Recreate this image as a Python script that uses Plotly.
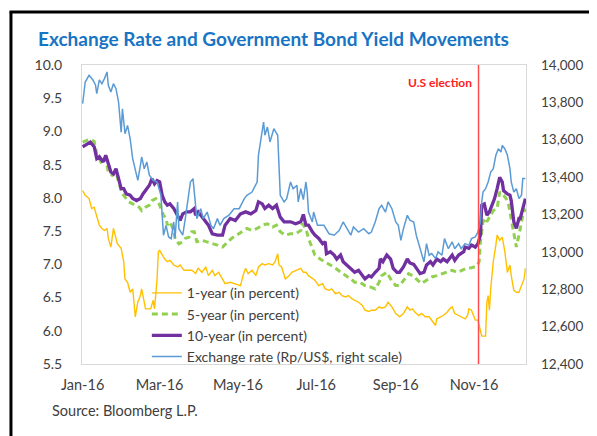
import pandas as pd
import plotly.graph_objects as go

BASE = pd.Timestamp("2016-01-01")

# ---- Data (day offsets from 1 Jan 2016) ----
fx_days = [0, 2, 5, 8, 10, 11, 13, 15, 17, 19, 20, 22, 24, 26, 28, 30, 31, 33, 35, 37, 39, 41, 43, 45, 46, 48, 50, 52, 55, 58,
           61, 62, 63, 65, 67, 69, 71, 72, 74, 75, 78, 80, 82, 84, 86, 88, 89, 92, 94, 97, 100, 102, 105, 107, 110, 114, 118,
           122, 126, 128, 132, 136, 137, 139, 141, 142, 144, 146, 149, 152, 153, 154, 157, 159, 162, 164, 167, 168, 170, 172,
           174, 175, 176, 179, 180, 183, 188, 192, 196, 200, 203, 206, 209, 211, 215, 219, 223, 225, 228, 231, 233, 236, 238,
           241, 244, 246, 248, 250, 253, 255, 258, 260, 263, 266, 268, 270, 272, 275, 277, 280, 282, 285, 288, 290, 293, 295,
           298, 301, 303, 306, 308, 310, 311, 312, 314, 316, 318, 320, 322, 324, 326, 327, 329, 331, 333, 334, 336, 338, 340,
           342, 343, 345]
fx_vals = [13793, 13909, 13945, 13920, 13893, 13847, 13920, 13900, 13927, 13963, 13891, 13856, 13900, 13873, 13802, 13641,
           13766, 13632, 13677, 13606, 13499, 13445, 13383, 13463, 13508, 13445, 13481, 13410, 13383, 13374, 13303, 13196,
           13089, 13142, 13080, 13071, 13160, 13071, 13267, 13124, 13089, 13178, 13267, 13374, 13392, 13267, 13178, 13231,
           13178, 13213, 13142, 13124, 13178, 13142, 13178, 13196, 13231, 13231, 13285, 13303, 13320, 13374, 13517, 13606,
           13695, 13624, 13668, 13588, 13659, 13624, 13481, 13303, 13267, 13285, 13374, 13338, 13356, 13267, 13338, 13280,
           13374, 13320, 13213, 13160, 13213, 13142, 13142, 13097, 13089, 13115, 13160, 13124, 13089, 13133, 13106, 13124,
           13097, 13106, 13160, 13231, 13249, 13213, 13267, 13231, 13160, 13142, 13062, 13124, 13196, 13170, 13160, 13089,
           13017, 12946, 13044, 12982, 12991, 12964, 13000, 12982, 13071, 13017, 13053, 13017, 13044, 13017, 13044, 13035,
           13071, 13080, 13106, 13160, 13267, 13320, 13338, 13374, 13427, 13445, 13517, 13552, 13534, 13570, 13552, 13517,
           13445, 13374, 13320, 13338, 13285, 13303, 13392, 13392]

y10_days = [0, 4, 6, 9, 11, 13, 16, 18, 20, 22, 24, 26, 28, 30, 32, 34, 37, 39, 42, 45, 47, 50, 52, 54, 56, 58, 60, 62, 64,
            66, 68, 71, 73, 76, 78, 81, 84, 87, 88, 90, 94, 98, 101, 105, 109, 111, 115, 119, 123, 127, 131, 135, 137, 140,
            142, 145, 148, 151, 154, 157, 162, 166, 170, 172, 174, 176, 179, 181, 184, 187, 189, 190, 193, 196, 198, 201,
            203, 206, 209, 212, 215, 218, 220, 223, 225, 228, 231, 232, 234, 237, 240, 242, 245, 247, 250, 253, 255, 258,
            260, 263, 266, 268, 271, 273, 276, 279, 281, 284, 288, 290, 293, 297, 298, 301, 303, 306, 308, 310, 311, 313,
            315, 317, 319, 321, 323, 325, 327, 328, 331, 333, 334, 336, 338, 340, 341, 343, 345]
y10_vals = [8.77, 8.82, 8.84, 8.77, 8.59, 8.62, 8.54, 8.64, 8.49, 8.39, 8.36, 8.44, 8.29, 8.14, 8.14, 8.06, 8.04, 7.99, 7.96,
            7.99, 8.06, 8.14, 8.19, 8.29, 8.21, 8.26, 8.24, 8.04, 7.94, 7.89, 7.91, 7.84, 7.76, 7.66, 7.76, 7.79, 7.79, 7.84,
            7.74, 7.79, 7.69, 7.59, 7.46, 7.44, 7.44, 7.59, 7.69, 7.66, 7.76, 7.79, 7.76, 7.81, 7.94, 7.91, 7.84, 7.89, 7.84,
            7.89, 7.71, 7.64, 7.64, 7.61, 7.64, 7.75, 7.59, 7.59, 7.49, 7.44, 7.39, 7.31, 7.34, 7.16, 7.19, 7.14, 7.08, 7.14,
            7.04, 6.99, 6.94, 6.88, 6.91, 6.83, 6.78, 6.83, 6.81, 6.88, 6.94, 7.08, 7.04, 7.14, 7.08, 6.94, 6.88, 6.88, 6.96,
            7.08, 7.02, 7.00, 6.94, 6.86, 6.88, 6.99, 7.04, 6.99, 7.08, 7.04, 7.08, 7.04, 7.14, 7.06, 7.14, 7.19, 7.26, 7.24,
            7.29, 7.26, 7.31, 7.44, 7.89, 7.91, 7.74, 7.79, 7.89, 7.99, 8.14, 8.31, 8.24, 8.11, 8.06, 8.04, 7.96, 7.64, 7.54,
            7.69, 7.69, 7.84, 7.99]

y5_days = [0, 5, 9, 11, 15, 18, 20, 23, 26, 28, 31, 33, 36, 39, 41, 44, 46, 49, 52, 54, 57, 59, 61, 63, 65, 66, 68, 71, 72,
           75, 78, 80, 83, 85, 87, 89, 93, 97, 101, 105, 109, 113, 116, 120, 124, 128, 132, 136, 140, 144, 148, 151, 154,
           158, 162, 166, 170, 171, 172, 174, 176, 179, 181, 185, 189, 193, 197, 201, 205, 209, 212, 216, 220, 224, 228,
           231, 233, 237, 240, 244, 247, 251, 254, 257, 260, 264, 268, 272, 276, 280, 284, 288, 292, 295, 299, 303, 307,
           309, 310, 312, 314, 315, 318, 320, 323, 325, 328, 330, 332, 334, 336, 338, 340, 341, 343, 345]
y5_vals = [8.84, 8.88, 8.85, 8.66, 8.51, 8.59, 8.39, 8.34, 8.39, 8.24, 8.06, 8.01, 7.94, 7.91, 7.89, 7.86, 7.81, 7.86, 7.89,
           7.96, 7.99, 7.94, 7.84, 7.74, 7.69, 7.59, 7.64, 7.51, 7.39, 7.31, 7.34, 7.39, 7.41, 7.49, 7.49, 7.34, 7.36, 7.34,
           7.31, 7.29, 7.26, 7.34, 7.39, 7.44, 7.49, 7.54, 7.51, 7.54, 7.59, 7.61, 7.56, 7.59, 7.49, 7.44, 7.46, 7.46, 7.51,
           7.61, 7.59, 7.54, 7.39, 7.24, 7.14, 7.08, 7.04, 6.99, 6.94, 6.88, 6.83, 6.78, 6.73, 6.73, 6.68, 6.66, 6.63, 6.73,
           6.83, 6.88, 6.78, 6.68, 6.68, 6.78, 6.86, 6.83, 6.78, 6.71, 6.76, 6.81, 6.83, 6.86, 6.88, 6.91, 6.88, 6.91, 6.94,
           6.95, 6.97, 7.04, 7.34, 7.64, 7.69, 7.64, 7.74, 7.81, 7.84, 8.09, 8.04, 7.99, 7.89, 7.69, 7.44, 7.26, 7.44, 7.54,
           7.74, 7.84]

y1_days = [0, 2, 5, 7, 9, 11, 13, 15, 17, 19, 20, 22, 23, 24, 26, 27, 30, 32, 33, 35, 37, 39, 40, 41, 43, 45, 46, 48, 49,
           52, 53, 55, 56, 58, 59, 60, 62, 64, 66, 68, 71, 74, 76, 79, 83, 85, 87, 88, 90, 93, 96, 98, 101, 103, 106, 109,
           111, 115, 119, 123, 125, 127, 129, 132, 135, 137, 140, 142, 145, 148, 150, 152, 153, 155, 158, 161, 163, 167,
           170, 172, 174, 176, 179, 181, 184, 187, 189, 192, 194, 197, 200, 202, 205, 207, 210, 212, 215, 218, 220, 223,
           225, 228, 231, 233, 236, 238, 241, 244, 247, 250, 253, 255, 257, 259, 262, 264, 267, 270, 272, 275, 276, 279,
           281, 284, 286, 288, 290, 293, 295, 298, 300, 301, 303, 306, 308, 310, 311, 314, 315, 316, 317, 318, 320, 322,
           323, 325, 327, 329, 331, 333, 334, 336, 338, 340, 342, 344, 345]
y1_vals = [8.11, 8.04, 7.99, 7.84, 7.86, 7.71, 7.59, 7.54, 7.51, 7.54, 7.39, 7.26, 7.44, 7.54, 7.39, 7.31, 7.24, 7.04, 6.78,
           6.73, 6.58, 6.63, 6.43, 6.21, 6.43, 6.53, 6.63, 6.46, 6.33, 6.33, 6.33, 6.46, 6.33, 6.78, 7.19, 7.21, 7.14, 7.08,
           7.04, 7.06, 6.99, 6.96, 6.99, 6.91, 6.91, 6.91, 6.88, 6.86, 6.94, 6.88, 6.96, 6.83, 6.91, 6.83, 6.88, 6.78, 6.71,
           6.73, 6.71, 6.68, 6.83, 6.94, 6.86, 6.91, 6.83, 6.96, 7.01, 6.99, 7.01, 6.99, 7.04, 7.16, 6.99, 6.96, 6.78, 6.83,
           6.88, 6.91, 6.94, 6.88, 6.88, 6.83, 6.78, 6.76, 6.68, 6.71, 6.63, 6.61, 6.63, 6.56, 6.58, 6.53, 6.51, 6.53, 6.48,
           6.46, 6.43, 6.38, 6.31, 6.29, 6.31, 6.31, 6.36, 6.34, 6.36, 6.43, 6.36, 6.26, 6.21, 6.26, 6.36, 6.31, 6.33, 6.28,
           6.23, 6.26, 6.21, 6.21, 6.16, 6.08, 6.18, 6.21, 6.23, 6.28, 6.33, 6.36, 6.26, 6.23, 6.21, 6.18, 6.23, 6.33, 6.31,
           6.16, 6.16, 5.98, 5.92, 5.92, 6.43, 6.53, 6.31, 6.63, 7.04, 7.29, 7.44, 7.36, 7.41, 7.19, 6.88, 6.99, 6.83, 6.61,
           6.58, 6.58, 6.68, 6.78, 6.94]

tick_dates = ["2016-01-01", "2016-03-01", "2016-05-01", "2016-07-01", "2016-09-01", "2016-11-01"]
tick_labels = ["Jan-16", "Mar-16", "May-16", "Jul-16", "Sep-16", "Nov-16"]
election_date = "2016-11-04 12:00"

series_names = ["1-year (in percent)", "5-year (in percent)", "10-year (in percent)",
                "Exchange rate (Rp/US$, right scale)"]


def to_dates(days):
    return BASE + pd.to_timedelta(days, unit="D")


FONT = "Lato"
TXT = "#404040"

fig = go.Figure()
fig.add_trace(go.Scatter(x=to_dates(y1_days), y=y1_vals, name=series_names[0], mode="lines",
                         line=dict(color="#FFC000", width=1.4)))
fig.add_trace(go.Scatter(x=to_dates(y5_days), y=y5_vals, name=series_names[1], mode="lines",
                         line=dict(color="#92D050", width=3, dash="6px,4px")))
fig.add_trace(go.Scatter(x=to_dates(y10_days), y=y10_vals, name=series_names[2], mode="lines",
                         line=dict(color="#7030A0", width=3.3)))
fig.add_trace(go.Scatter(x=to_dates(fx_days), y=fx_vals, name=series_names[3], mode="lines", yaxis="y2",
                         line=dict(color="#5B9BD5", width=1.5)))

# election marker
fig.add_shape(type="line", xref="x", yref="paper", x0=election_date, x1=election_date, y0=0, y1=1,
              line=dict(color="#FF4B4B", width=1.5))

# black frame of the figure box (top and left edges)
fig.add_shape(type="line", xref="paper", yref="paper", x0=-0.163, x1=1.2, y0=1.177, y1=1.177,
              line=dict(color="black", width=3))
fig.add_shape(type="line", xref="paper", yref="paper", x0=-0.160, x1=-0.160, y0=1.18, y1=-0.26,
              line=dict(color="black", width=3))

fig.add_annotation(text="<b>Exchange Rate and Government Bond Yield Movements</b>", xref="paper", yref="paper",
                   x=-0.103, y=1.090, xanchor="left", yanchor="middle", showarrow=False,
                   font=dict(family=FONT, size=19, color="#1874C4"))
fig.add_annotation(text="<b>U.S election</b>", xref="paper", yref="paper", x=0.806, y=0.940,
                   xanchor="center", yanchor="middle", showarrow=False,
                   font=dict(family=FONT, size=12, color="#FF2020"))
fig.add_annotation(text="Source: Bloomberg L.P.", xref="paper", yref="paper", x=-0.072, y=-0.154,
                   xanchor="left", yanchor="middle", showarrow=False,
                   font=dict(family=FONT, size=14.5, color=TXT))

# The page adds an 8px body margin, so the figure is 8px smaller and margins shifted accordingly.
fig.update_layout(
    width=589, height=428, autosize=False,
    margin=dict(l=74, r=71, t=57, b=72),
    paper_bgcolor="white", plot_bgcolor="white",
    font=dict(family=FONT, size=12, color=TXT),
    showlegend=True,
    legend=dict(x=0.146, y=0.29, xanchor="left", yanchor="top", bgcolor="rgba(0,0,0,0)",
                font=dict(family=FONT, size=14, color=TXT), tracegroupgap=0, itemwidth=30),
    xaxis=dict(type="date", range=["2015-12-31 12:00", "2016-12-11 12:00"],
               tickvals=tick_dates, ticktext=tick_labels, showgrid=False, zeroline=False,
               showline=True, linecolor="#D9D9D9", linewidth=1, mirror=True, ticks="",
               ticklabelstandoff=8, tickfont=dict(size=14.5)),
    yaxis=dict(range=[5.5, 10.0], dtick=0.5, tickformat=".1f", showgrid=False, zeroline=False,
               showline=True, linecolor="#D9D9D9", linewidth=1, mirror=True, ticks="",
               ticklabelstandoff=16, tickfont=dict(size=14)),
    yaxis2=dict(range=[12400, 14000], dtick=200, tickformat=",d", overlaying="y", side="right",
                showgrid=False, zeroline=False, showline=False, ticks="",
                ticklabelstandoff=14, tickfont=dict(size=13.5)),
)

fig.write_html("out.html")
